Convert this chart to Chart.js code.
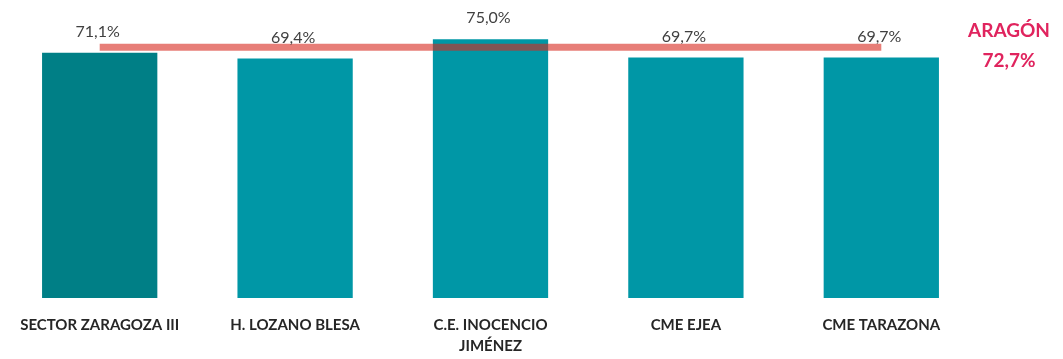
<!DOCTYPE html>
<html lang="es">
<head>
    <meta charset="UTF-8">
    <title>Sectores - Aragón</title>
    <script src="https://cdn.jsdelivr.net/npm/chart.js"></script>
    <style>
        body {
            margin: 0;
            padding: 0;
            background: #ffffff;
        }

        .chart-container {
            position: relative;
            width: 1063px;
            height: 359px;
        }
    </style>
</head>
<body>
    <div class="chart-container">
        <canvas id="chart"></canvas>
    </div>

    <script>
        // Data
        const categories = [
            'SECTOR ZARAGOZA III',
            'H. LOZANO BLESA',
            ['C.E. INOCENCIO', 'JIMÉNEZ'],
            'CME EJEA',
            'CME TARAZONA'
        ];
        const values = [71.1, 69.4, 75.0, 69.7, 69.7];
        const barColors = ['#007f86', '#0097a6', '#0097a6', '#0097a6', '#0097a6'];
        const aragonLabel = 'ARAGÓN';
        const aragonValue = 72.7;

        const fmt = v => v.toFixed(1).replace('.', ',') + '%';

        // value labels above bars + the Aragón tag on the right
        const labelsPlugin = {
            id: 'labels',
            afterDatasetsDraw(chart) {
                const ctx = chart.ctx;
                const meta = chart.getDatasetMeta(1);
                ctx.save();
                ctx.font = '16px Lato, "Open Sans", sans-serif';
                ctx.fillStyle = '#404040';
                ctx.textAlign = 'center';
                ctx.textBaseline = 'bottom';
                meta.data.forEach((bar, i) => {
                    ctx.fillText(fmt(values[i]), bar.x - 2, bar.y - 13);
                });

                const y = chart.scales.y.getPixelForValue(aragonValue);
                const x = chart.chartArea.right + 30;
                ctx.font = 'bold 19px Lato, "Open Sans", sans-serif';
                ctx.fillStyle = '#e0245e';
                ctx.textBaseline = 'middle';
                ctx.fillText(aragonLabel, x, y - 16);
                ctx.fillText(fmt(aragonValue), x, y + 14);
                ctx.restore();
            }
        };

        const ctx = document.getElementById('chart').getContext('2d');
        new Chart(ctx, {
            type: 'bar',
            data: {
                labels: categories,
                datasets: [
                    {
                        type: 'line',
                        label: aragonLabel,
                        data: categories.map(() => aragonValue),
                        borderColor: 'rgba(215, 40, 30, 0.6)',
                        borderWidth: 7,
                        pointRadius: 0,
                        fill: false,
                        order: 0
                    },
                    {
                        label: 'Sector',
                        data: values,
                        backgroundColor: barColors,
                        barPercentage: 0.59,
                        categoryPercentage: 1.0,
                        order: 1
                    }
                ]
            },
            options: {
                responsive: true,
                maintainAspectRatio: false,
                animation: false,
                layout: {
                    padding: { top: 22, left: 2, right: 84, bottom: 0 }
                },
                scales: {
                    x: {
                        grid: { display: false },
                        border: { display: false },
                        ticks: {
                            color: '#262626',
                            font: { family: 'Lato, "Open Sans", sans-serif', size: 15, weight: 'bold', lineHeight: 1.45 },
                            maxRotation: 0,
                            autoSkip: false,
                            padding: 8
                        },
                        afterFit(scale) {
                            scale.height = 61;
                        }
                    },
                    y: {
                        display: false,
                        min: 0,
                        max: 80
                    }
                },
                plugins: {
                    legend: { display: false },
                    tooltip: { enabled: false }
                }
            },
            plugins: [labelsPlugin]
        });
    </script>
</body>
</html>
